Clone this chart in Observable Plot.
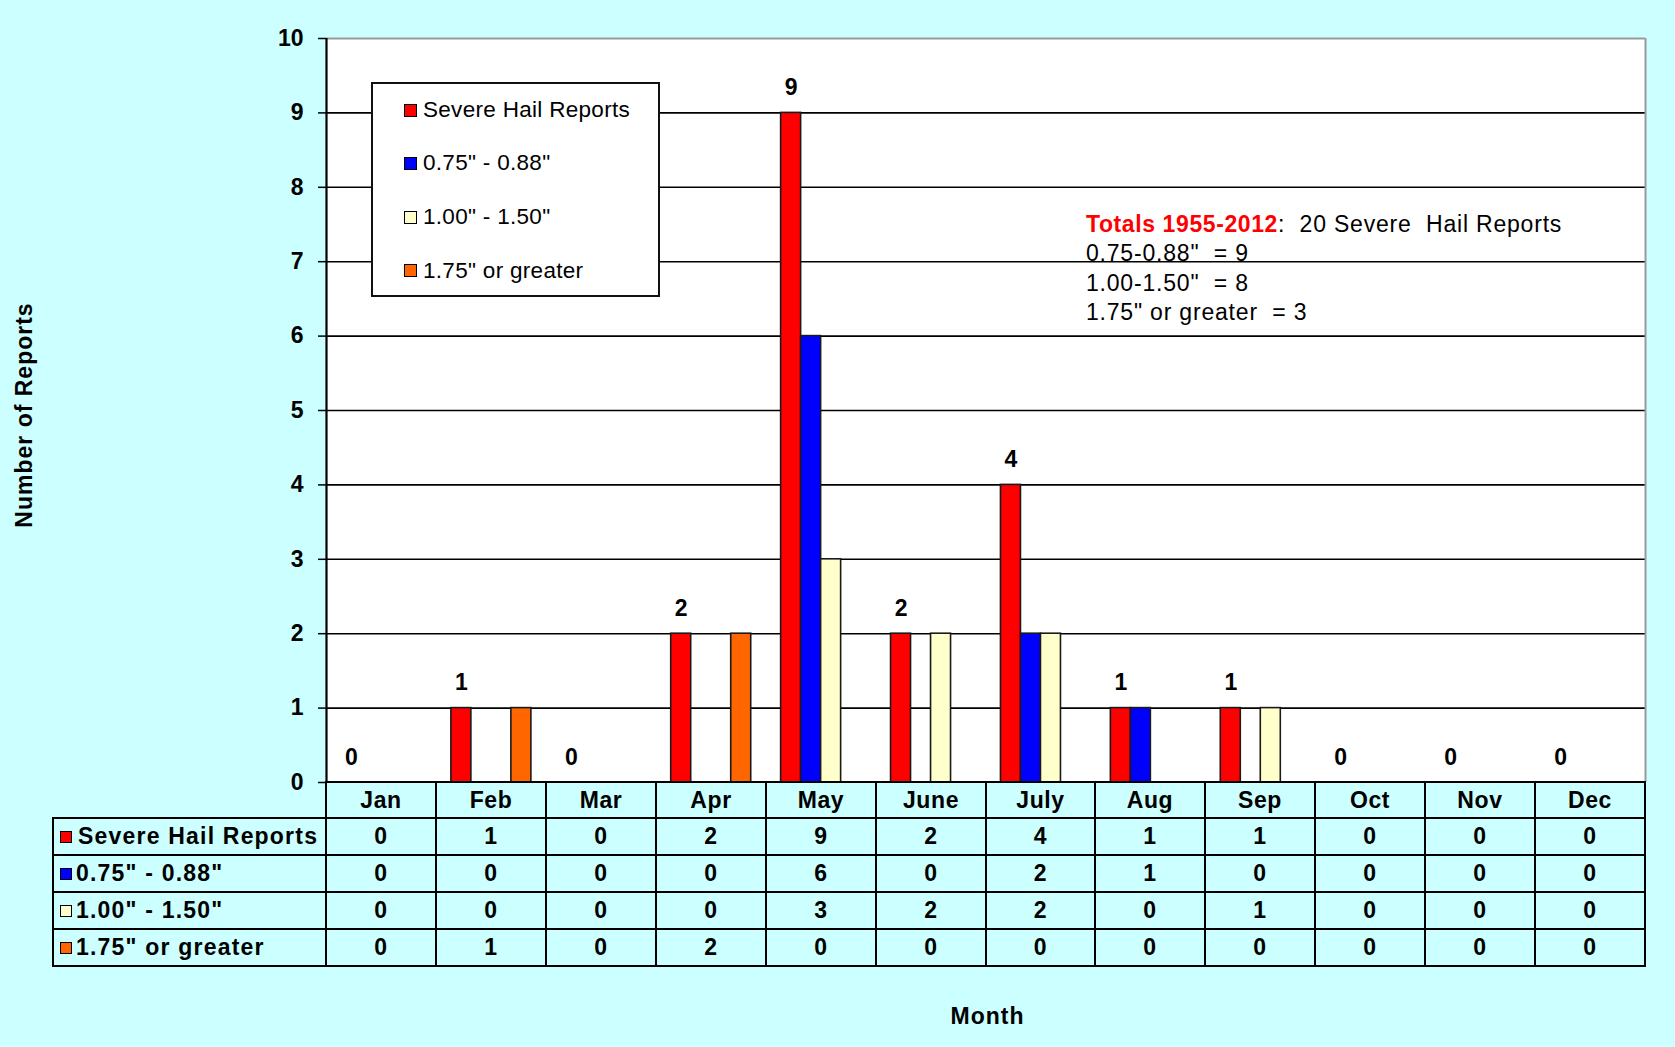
<!DOCTYPE html>
<html>
<head>
<meta charset="utf-8">
<script src="https://cdn.jsdelivr.net/npm/d3@7"></script>
<script src="https://cdn.jsdelivr.net/npm/@observablehq/plot@0.6"></script>
<style>
  html, body { margin: 0; padding: 0; background: #ccffff; }
  #wrap { position: relative; width: 1675px; height: 1047px; overflow: hidden;
          font-family: "Liberation Sans", Arial, sans-serif; color: #000; }
  #wrap svg { position: absolute; left: 0; top: 0; }
  .cell { position: absolute; box-sizing: border-box; border: 2px solid #000;
          display: flex; align-items: center; justify-content: center;
          font-weight: bold; font-size: 23px; letter-spacing: 0.6px; white-space: pre; }
  .rowlabel { justify-content: flex-start; padding-left: 6px; letter-spacing: 1.2px; }
  .sw { display: inline-block; width: 12px; height: 12px; box-sizing: border-box;
        border: 1.5px solid #000; margin-right: 4px; flex: none; }
  #legend { position: absolute; left: 371px; top: 82px; width: 289px; height: 215px;
            box-sizing: border-box; border: 2px solid #111; background: #fff; }
  .litem { position: absolute; left: 31px; height: 30px; display: flex; align-items: center;
           font-size: 22.5px; white-space: pre; letter-spacing: 0.3px; }
  .litem .sw { width: 13px; height: 13px; margin-right: 6px; }
  .noteline { position: absolute; left: 1086px; font-size: 23px; height: 29px; line-height: 29px;
              white-space: pre; letter-spacing: 0.8px; }
  .noteline .red { color: #ff0000; font-weight: bold; letter-spacing: 0.6px; }
  .axislabel { position: absolute; font-weight: bold; font-size: 23px; letter-spacing: 1px;
               white-space: nowrap; transform: translate(-50%, -50%); }
</style>
</head>
<body>
<div id="wrap"></div>
<script>
// ---------- data ----------
const months = ["Jan", "Feb", "Mar", "Apr", "May", "June", "July", "Aug", "Sep", "Oct", "Nov", "Dec"];
const seriesNames = ["Severe Hail Reports", "0.75\" - 0.88\"", "1.00\" - 1.50\"", "1.75\" or greater"];
const seriesColors = ["#ff0000", "#0000ff", "#ffffcc", "#ff6600"];
const severeHailReports = [0, 1, 0, 2, 9, 2, 4, 1, 1, 0, 0, 0];
const hail075to088     = [0, 0, 0, 0, 6, 0, 2, 1, 0, 0, 0, 0];
const hail100to150     = [0, 0, 0, 0, 3, 2, 2, 0, 1, 0, 0, 0];
const hail175plus      = [0, 1, 0, 2, 0, 0, 0, 0, 0, 0, 0, 0];
const yTicks = [0, 1, 2, 3, 4, 5, 6, 7, 8, 9, 10];
const yLabel = "Number of Reports";
const xLabel = "Month";
const totalsTitle = "Totals 1955-2012";
const totalsLines = [":  20 Severe  Hail Reports", "0.75-0.88\"  = 9", "1.00-1.50\"  = 8", "1.75\" or greater  = 3"];

const seriesValues = [severeHailReports, hail075to088, hail100to150, hail175plus];

// ---------- layout constants (fractions of one month band) ----------
const GROUP_PAD = 0.136;
const BAR_W = 0.182;

const bars = seriesValues.flatMap((vals, s) =>
  vals.map((v, i) => ({i, s, series: seriesNames[s], value: v}))
).filter(d => d.value > 0);

const topLabels = months.map((m, i) => ({i, value: severeHailReports[i]}));

const W = 1675, H = 1047;
const chart = Plot.plot({
  width: W,
  height: H,
  marginLeft: 326,
  marginRight: 30,
  marginTop: 38,
  marginBottom: 265,
  style: {background: "transparent", fontFamily: "Liberation Sans, Arial, sans-serif", overflow: "visible"},
  x: {domain: [0, months.length], axis: null},
  y: {domain: [0, 10], axis: null},
  color: {domain: seriesNames, range: seriesColors},
  marks: [
    Plot.frame({fill: "#ffffff", stroke: null}),
    Plot.ruleY(yTicks.filter(d => d > 0 && d < 10), {stroke: "#000", strokeWidth: 1.6}),
    Plot.ruleY([10], {stroke: "#999", strokeWidth: 2}),
    Plot.ruleX([months.length], {y1: 0, y2: 10, stroke: "#999", strokeWidth: 2}),
    Plot.rect(bars, {
      x1: d => d.i + GROUP_PAD + d.s * BAR_W,
      x2: d => d.i + GROUP_PAD + (d.s + 1) * BAR_W,
      y1: 0,
      y2: "value",
      fill: "series",
      stroke: "#1a1a1a",
      strokeWidth: 1.6
    }),
    Plot.text(topLabels, {
      x: d => d.i + GROUP_PAD + BAR_W / 2,
      y: "value",
      text: d => String(d.value),
      dy: -25,
      fontSize: 23,
      fontWeight: "bold",
      fill: "#000"
    }),
    Plot.axisY({ticks: yTicks, tickSize: 8, tickPadding: 15, fontSize: 23, fontWeight: "bold",
                color: "#000", strokeWidth: 1.5, label: null, tickFormat: d => String(d)}),
    Plot.ruleX([0], {y1: 0, y2: 10, stroke: "#000", strokeWidth: 2.2})
  ]
});

const wrap = document.getElementById("wrap");
wrap.appendChild(chart);

const xs = chart.scale("x"), ys = chart.scale("y");
const x0 = xs.apply(0), xEnd = xs.apply(months.length);
const yZero = ys.apply(0);

// ---------- data table under the chart ----------
const tableLeft = 53;
const rowH = [36, 37, 37, 37, 37];
const rowTops = [Math.round(yZero)];
for (let r = 1; r < rowH.length; r++) rowTops.push(rowTops[r - 1] + rowH[r - 1]);

function addCell(left, right, top, height, cls, content) {
  const l = Math.round(left), r = Math.round(right);
  const d = document.createElement("div");
  d.className = "cell " + (cls || "");
  d.style.left = (l - 1) + "px";
  d.style.top = (top - 1) + "px";
  d.style.width = (r - l + 2) + "px";
  d.style.height = (height + 2) + "px";
  if (typeof content === "string") d.textContent = content; else d.appendChild(content);
  wrap.appendChild(d);
  return d;
}

// header row
months.forEach((m, i) => {
  addCell(xs.apply(i), xs.apply(i + 1), rowTops[0], rowH[0], "", m);
});
// series rows
seriesNames.forEach((name, s) => {
  const top = rowTops[s + 1], h = rowH[s + 1];
  const frag = document.createElement("span");
  frag.style.display = "flex";
  frag.style.alignItems = "center";
  const sw = document.createElement("span");
  sw.className = "sw";
  sw.style.background = seriesColors[s];
  if (s === 0) sw.style.marginRight = "6px";
  frag.appendChild(sw);
  frag.appendChild(document.createTextNode(name));
  addCell(tableLeft, x0, top, h, "rowlabel", frag);
  seriesValues[s].forEach((v, i) => {
    addCell(xs.apply(i), xs.apply(i + 1), top, h, "", String(v));
  });
});

// ---------- legend ----------
const legend = document.createElement("div");
legend.id = "legend";
const legendCenters = [28, 81, 135, 188.5];
seriesNames.forEach((name, s) => {
  const it = document.createElement("div");
  it.className = "litem";
  it.style.top = (legendCenters[s] - 15 - 2) + "px";
  const sw = document.createElement("span");
  sw.className = "sw";
  sw.style.background = seriesColors[s];
  it.appendChild(sw);
  it.appendChild(document.createTextNode(name));
  legend.appendChild(it);
});
wrap.appendChild(legend);

// ---------- totals note ----------
const noteTop = 210;
const noteStep = 29.3;
const first = document.createElement("div");
first.className = "noteline";
first.style.top = noteTop + "px";
const red = document.createElement("span");
red.className = "red";
red.textContent = totalsTitle;
const rest = document.createElement("span");
rest.textContent = totalsLines[0];
first.appendChild(red);
first.appendChild(rest);
wrap.appendChild(first);
totalsLines.slice(1).forEach((t, k) => {
  const ln = document.createElement("div");
  ln.className = "noteline";
  ln.style.top = (noteTop + (k + 1) * noteStep) + "px";
  ln.textContent = t;
  wrap.appendChild(ln);
});

// ---------- axis titles ----------
const yl = document.createElement("div");
yl.className = "axislabel";
yl.textContent = yLabel;
yl.style.left = "23.5px";
yl.style.top = ((ys.apply(0) + ys.apply(10)) / 2 + 5) + "px";
yl.style.transform = "translate(-50%, -50%) rotate(-90deg)";
wrap.appendChild(yl);

const xl = document.createElement("div");
xl.className = "axislabel";
xl.textContent = xLabel;
xl.style.left = ((x0 + xEnd) / 2 + 2) + "px";
xl.style.top = "1016px";
wrap.appendChild(xl);
</script>
</body>
</html>
